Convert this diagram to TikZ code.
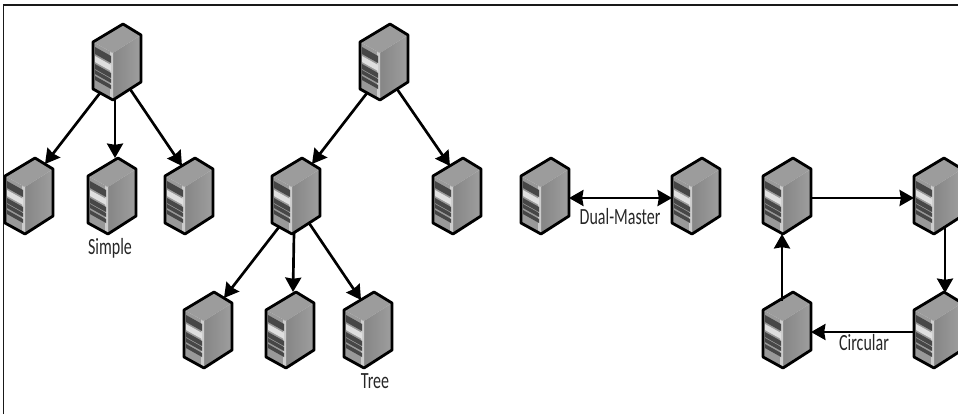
\documentclass[tikz,border=0pt]{standalone}
\usepackage{fontspec}
\setmainfont{Carlito}
\usetikzlibrary{arrows.meta}
\definecolor{labelgray}{gray}{0.15}
\tikzset{
	port/.style={inner sep=0pt,minimum size=0pt,outer sep=0pt},
	link/.style={line width=1.9pt,-{Stealth[length=0.36cm,width=0.4cm,inset=0.03cm]}},
	biglink/.style={line width=1.9pt,{Stealth[length=0.36cm,width=0.4cm,inset=0.03cm]}-{Stealth[length=0.36cm,width=0.4cm,inset=0.03cm]}},
	tag/.style={font=\fontsize{16.5}{18}\selectfont,text=labelgray,xscale=0.69,transform shape,inner sep=0pt},
	server/.pic={
		% Top and side of the box
		\fill[gray!78] (-24,-20) -- (6,-38) -- (24,-27) -- (-4,-9) -- cycle;
		\shade[left color=gray!95,right color=gray!76] (-4,-9) -- (24,-27) -- (24,20) -- (-4,38) -- cycle;
		% Front with the drive bays
		\fill[gray!80] (-24,-20) -- (-4,-9) -- (-4,38) -- (-24,27) -- cycle;
		\fill[gray!40] (-7,-10) -- (-4,-9) -- (-4,38) -- (-7,36) -- cycle;
		\fill[gray!25] (-22,-6) -- (-6,3) -- (-6,9) -- (-22,0) -- cycle;
		\foreach \y/\h in {-15/7, 2/5, 8/4, 14/4} {
			\fill[black!72] (-22,\y) -- (-6,\y+9) -- (-6,\y+9+\h) -- (-22,\y+\h) -- cycle;
		}
		\draw[line width=2pt,line join=round] (-24,-20) -- (6,-38) -- (24,-27) -- (24,20) -- (-4,38) -- (-24,27) -- cycle;
		% Places where the arrows meet the box
		\foreach \p/\q in {ne/{16,-32},nw/{-7,-30},n/{3,-38},sw/{-17,31},s/{-2,37},se/{13,27},e/{24,2},w/{-24,2},sl/{-5,38},sr/{7,31},nl/{-5,-29},nr/{7,-37}} {
			\node[port] (-\p) at (\q) {};
		}
	}
}
\begin{document}
\begin{tikzpicture}[x=0.025cm,y=-0.025cm]
	\useasboundingbox (0,0) rectangle (958,414);
	\clip (0,0) rectangle (958,414);
	% Frame
	\draw[line width=1.4pt,gray!20!black] (3.5,414) -- (3.5,5) -- (958,5);
	% Simple
	\pic (stop) at (117,62) {server};
	\pic (sleft) at (29,196) {server};
	\pic (smid) at (112,196) {server};
	\pic (sright) at (189,196) {server};
	\draw[link] (stop-sw) -- (sleft-ne);
	\draw[link] (stop-s) -- (smid-n);
	\draw[link] (stop-se) -- (sright-nw);
	\node[tag] (simple) at (110,248) {Simple};
	% Tree
	\pic (ttop) at (384,62) {server};
	\pic (tmid) at (296,196) {server};
	\pic (tright) at (457,196) {server};
	\pic (tleafa) at (208,330) {server};
	\pic (tleafb) at (290,330) {server};
	\pic (tleafc) at (368,330) {server};
	\draw[link] (ttop-sw) -- (tmid-ne);
	\draw[link] (ttop-se) -- (tright-nw);
	\draw[link] (tmid-sw) -- (tleafa-ne);
	\draw[link] (tmid-s) -- (tleafb-n);
	\draw[link] (tmid-se) -- (tleafc-nw);
	\node[tag] (tree) at (375,381) {Tree};
	% Dual-Master
	\pic (dleft) at (545,196) {server};
	\pic (dright) at (696,196) {server};
	\draw[biglink] (dleft-e) -- (dright-w);
	\node[tag] (dual) at (620,217) {Dual-Master};
	% Circular
	\pic (ca) at (787,196) {server};
	\pic (cb) at (938,196) {server};
	\pic (cc) at (938,330) {server};
	\pic (cd) at (787,330) {server};
	\draw[link] (ca-e) -- (cb-w);
	\draw[link] (cb-sr) -- (cc-nr);
	\draw[link] (cc-w) -- (cd-e);
	\draw[link] (cd-nl) -- (ca-sl);
	\node[tag] (circular) at (864,343) {Circular};
\end{tikzpicture}
\end{document}
